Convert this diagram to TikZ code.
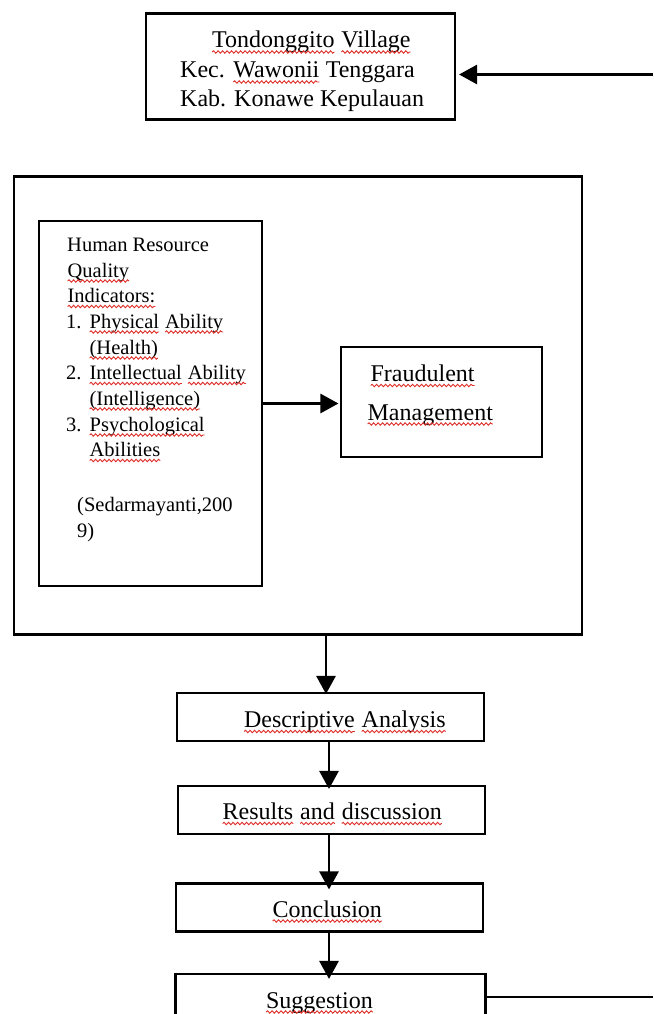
\documentclass[tikz,border=0pt]{standalone}
\usepackage{fontspec}
\setmainfont{Liberation Serif}
\usetikzlibrary{arrows.meta,decorations.pathmorphing}
\definecolor{wred}{RGB}{222,45,38}
\newcommand\rw[1]{\tikz[baseline=(w.base)]{\node[inner sep=0pt,outer sep=0pt,anchor=base,draw=none] (w) at (0,0) {#1};\draw[wred,line width=0.9pt,decorate,decoration={snake,amplitude=1.2pt,segment length=4.5pt}] ([yshift=-4pt]w.base west) -- ([yshift=-4pt]w.base east);}}
\tikzset{
  box/.style={draw, line width=2.1pt, rectangle, inner sep=0pt},
  arr/.style={line width=2.7pt, -{Triangle[length=18pt,width=19pt]}},
  big/.style={font=\fontsize{24}{29}\selectfont, inner sep=0pt, anchor=base west},
  small/.style={font=\fontsize{20.5}{26}\selectfont, inner sep=0pt, anchor=base west},
}
\begin{document}
\begin{tikzpicture}[x=1pt,y=-1pt]
\useasboundingbox (0,0) rectangle (653,1014);
\clip (0,0) rectangle (653,1014);
% boxes
\node[box, minimum width=309pt, minimum height=106pt] (top) at (300.5,66.5) {};
\node[box, minimum width=568pt, minimum height=458pt] (outer) at (298,405.5) {};
\node[box, minimum width=223pt, minimum height=365pt] (left) at (150.5,403.5) {};
\node[box, minimum width=201pt, minimum height=110pt] (fraud) at (441.5,402) {};
\node[box, minimum width=307pt, minimum height=48pt] (desc) at (330.5,717) {};
\node[box, minimum width=307pt, minimum height=48pt] (res) at (331.5,810) {};
\node[box, minimum width=307pt, minimum height=48pt] (conc) at (329.5,907.5) {};
\node[box, minimum width=310pt, minimum height=80pt] (sugg) at (330.5,1014) {};
% top box text
\node[big] (t1) at (211.5,48) {\rw{Tondonggito} \rw{Village}};
\node[big] (t2) at (180,78) {Kec. \rw{Wawonii} Tenggara};
\node[big] (t3) at (180,107) {Kab. Konawe Kepulauan};
% left box text
\node[small] (l1) at (67,251) {Human Resource};
\node[small] (l2) at (67,277) {\rw{Quality}};
\node[small] (l3) at (67,302.5) {\rw{Indicators:}};
\node[small] (n1) at (66,328) {1.};
\node[small] (l4) at (89,328) {\rw{Physical} \rw{Ability}};
\node[small] (l5) at (89,354) {\rw{(Health)}};
\node[small] (n2) at (66,379.5) {2.};
\node[small] (l6) at (89,379.5) {\rw{Intellectual} \rw{Ability}};
\node[small] (l7) at (89,405) {\rw{(Intelligence)}};
\node[small] (n3) at (66,431) {3.};
\node[small] (l8) at (89,431) {\rw{Psychological}};
\node[small] (l9) at (89,456.5) {\rw{Abilities}};
\node[small] (l10) at (77,511) {(Sedarmayanti,200};
\node[small] (l11) at (77,537) {9)};
% fraud text
\node[big] (f1) at (370,381.5) {\rw{Fraudulent}};
\node[big] (f2) at (367,420) {\rw{Management}};
% flow texts
\node[big] (dt) at (243.5,727.5) {\rw{Descriptive} \rw{Analysis}};
\node[big] (rt) at (222,819.5) {\rw{Results} \rw{and} \rw{discussion}};
\node[big] (ct) at (272,917) {\rw{Conclusion}};
\node[big] (st) at (265.5,1008) {\rw{Suggestion}};
% connectors
\coordinate (rin) at (653,74.5);
\coordinate (rout) at (653,997);
\draw[arr] (rin) -- ([xshift=3pt]rin -| top.east);
\draw[arr] (left.east |- 0,403.5) -- ([xshift=-1.5pt]fraud.west |- 0,403.5);
\draw[arr] ([xshift=28pt]outer.south) -- ([xshift=-4.5pt,yshift=-2pt]desc.north);
\draw[arr] ([xshift=-1.5pt]desc.south) -- ([xshift=-2.5pt,yshift=-4pt]res.north);
\draw[arr] ([xshift=-2.5pt]res.south) -- ([xshift=-0.5pt,yshift=-7pt]conc.north);
\draw[arr] ([xshift=-0.5pt]conc.south) -- ([xshift=-1.5pt,yshift=-6pt]sugg.north);
\draw[line width=1.6pt] (rout -| sugg.east) -- (rout);
\end{tikzpicture}
\end{document}
